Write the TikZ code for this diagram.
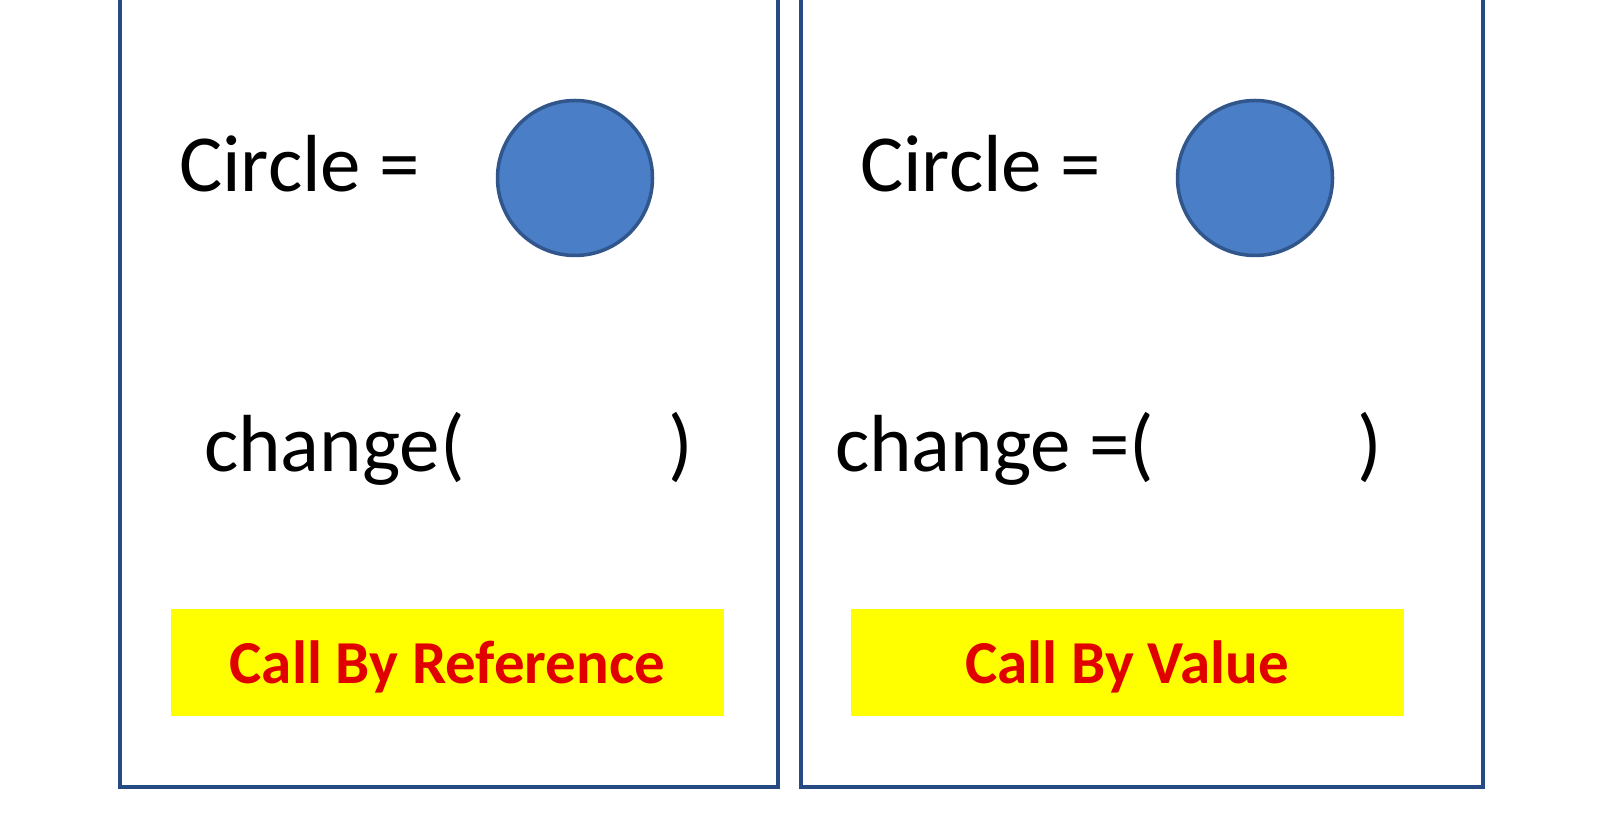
\documentclass[tikz,border=0pt]{standalone}
\usepackage{fontspec}
\setmainfont{Carlito}
\begin{document}
\begin{tikzpicture}[x=1pt,y=1pt,
  panel/.style={draw=boxblue,line width=4.5pt},
  blob/.style={circle,fill=blobfill,draw=blobedge,line width=3.5pt,minimum size=155pt,inner sep=0pt},
  codetext/.style={anchor=base west,inner sep=0pt,font=\fontsize{81}{90}\selectfont,text=black},
  tag/.style={fill=tagyellow,minimum width=553pt,minimum height=107pt,inner sep=0pt,text height=50pt,text depth=7pt,text=tagred,font=\fontsize{61}{70}\selectfont\bfseries}]
\definecolor{boxblue}{RGB}{38,75,130}
\definecolor{blobfill}{RGB}{74,126,198}
\definecolor{blobedge}{RGB}{48,86,140}
\definecolor{tagred}{RGB}{225,0,0}
\definecolor{tagyellow}{RGB}{255,255,0}
\useasboundingbox[fill=white] (0,0) rectangle (1600,840);
\begin{scope}
\clip (0,0) rectangle (1600,840);
\draw[panel] (120,53) rectangle (778,880);
\draw[panel] (801,53) rectangle (1483,880);
\end{scope}
% left panel
\node[codetext] (c1) at (179,648) {Circle =};
\node[blob] (b1) at (575,662) {};
\node[codetext] (ch1) at (204,368) {change(};
\node[codetext] (p1) at (668,368) {)};
\node[tag] (t1) at (447.5,177.5) {Call By Reference};
% right panel
\node[codetext] (c2) at (860,648) {Circle =};
\node[blob] (b2) at (1255,662) {};
\node[codetext] (ch2) at (835,368) {change =(};
\node[codetext] (p2) at (1357,368) {)};
\node[tag] (t2) at (1127,177.5) {Call By Value};
\end{tikzpicture}
\end{document}
